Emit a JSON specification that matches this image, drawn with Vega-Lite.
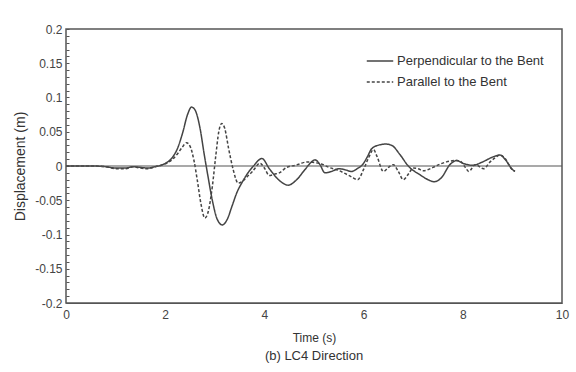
{
  "$schema": "https://vega.github.io/schema/vega-lite/v6.json",
  "width": 496,
  "height": 274,
  "autosize": {"type": "none"},
  "padding": {"left": 66, "top": 29, "right": 14, "bottom": 69},
  "background": "white",
  "config": {
    "font": "Liberation Sans",
    "view": {"stroke": "#555", "strokeWidth": 1.5},
    "axis": {"labelFont": "Liberation Sans", "titleFont": "Liberation Sans", "labelFontSize": 12, "titleFontSize": 12, "labelColor": "#444", "titleColor": "#333", "titleFontWeight": "normal", "grid": false, "domainColor": "#555"}
  },
  "title": {"text": "(b) LC4 Direction", "orient": "bottom", "anchor": "middle", "fontSize": 13, "fontWeight": "normal", "font": "Liberation Sans", "color": "#333", "offset": 7},
  "datasets": {
    "series": [
      {"t": 0, "v": 0, "s": "Perpendicular to the Bent"},
      {"t": 0.5, "v": 0, "s": "Perpendicular to the Bent"},
      {"t": 0.8, "v": -0.001, "s": "Perpendicular to the Bent"},
      {"t": 1.0, "v": -0.003, "s": "Perpendicular to the Bent"},
      {"t": 1.2, "v": -0.003, "s": "Perpendicular to the Bent"},
      {"t": 1.35, "v": -0.001, "s": "Perpendicular to the Bent"},
      {"t": 1.5, "v": -0.002, "s": "Perpendicular to the Bent"},
      {"t": 1.65, "v": -0.003, "s": "Perpendicular to the Bent"},
      {"t": 1.8, "v": -0.001, "s": "Perpendicular to the Bent"},
      {"t": 1.95, "v": 0.002, "s": "Perpendicular to the Bent"},
      {"t": 2.05, "v": 0.006, "s": "Perpendicular to the Bent"},
      {"t": 2.15, "v": 0.013, "s": "Perpendicular to the Bent"},
      {"t": 2.25, "v": 0.026, "s": "Perpendicular to the Bent"},
      {"t": 2.35, "v": 0.048, "s": "Perpendicular to the Bent"},
      {"t": 2.45, "v": 0.075, "s": "Perpendicular to the Bent"},
      {"t": 2.53, "v": 0.086, "s": "Perpendicular to the Bent"},
      {"t": 2.6, "v": 0.082, "s": "Perpendicular to the Bent"},
      {"t": 2.7, "v": 0.056, "s": "Perpendicular to the Bent"},
      {"t": 2.78, "v": 0.02, "s": "Perpendicular to the Bent"},
      {"t": 2.86, "v": -0.014, "s": "Perpendicular to the Bent"},
      {"t": 2.95, "v": -0.05, "s": "Perpendicular to the Bent"},
      {"t": 3.05, "v": -0.078, "s": "Perpendicular to the Bent"},
      {"t": 3.15, "v": -0.086, "s": "Perpendicular to the Bent"},
      {"t": 3.25, "v": -0.078, "s": "Perpendicular to the Bent"},
      {"t": 3.35, "v": -0.058, "s": "Perpendicular to the Bent"},
      {"t": 3.45, "v": -0.038, "s": "Perpendicular to the Bent"},
      {"t": 3.55, "v": -0.024, "s": "Perpendicular to the Bent"},
      {"t": 3.65, "v": -0.012, "s": "Perpendicular to the Bent"},
      {"t": 3.78, "v": 0.0, "s": "Perpendicular to the Bent"},
      {"t": 3.95, "v": 0.011, "s": "Perpendicular to the Bent"},
      {"t": 4.1, "v": -0.004, "s": "Perpendicular to the Bent"},
      {"t": 4.3, "v": -0.021, "s": "Perpendicular to the Bent"},
      {"t": 4.48, "v": -0.028, "s": "Perpendicular to the Bent"},
      {"t": 4.65, "v": -0.02, "s": "Perpendicular to the Bent"},
      {"t": 4.82, "v": -0.005, "s": "Perpendicular to the Bent"},
      {"t": 4.95, "v": 0.006, "s": "Perpendicular to the Bent"},
      {"t": 5.02, "v": 0.009, "s": "Perpendicular to the Bent"},
      {"t": 5.12, "v": 0.002, "s": "Perpendicular to the Bent"},
      {"t": 5.22, "v": -0.01, "s": "Perpendicular to the Bent"},
      {"t": 5.35, "v": -0.008, "s": "Perpendicular to the Bent"},
      {"t": 5.5, "v": -0.004, "s": "Perpendicular to the Bent"},
      {"t": 5.65, "v": -0.006, "s": "Perpendicular to the Bent"},
      {"t": 5.75, "v": -0.008, "s": "Perpendicular to the Bent"},
      {"t": 5.87, "v": -0.004, "s": "Perpendicular to the Bent"},
      {"t": 5.99, "v": 0.003, "s": "Perpendicular to the Bent"},
      {"t": 6.08, "v": 0.014, "s": "Perpendicular to the Bent"},
      {"t": 6.16, "v": 0.025, "s": "Perpendicular to the Bent"},
      {"t": 6.33, "v": 0.031, "s": "Perpendicular to the Bent"},
      {"t": 6.45, "v": 0.032, "s": "Perpendicular to the Bent"},
      {"t": 6.57, "v": 0.03, "s": "Perpendicular to the Bent"},
      {"t": 6.73, "v": 0.017, "s": "Perpendicular to the Bent"},
      {"t": 6.9, "v": 0.0, "s": "Perpendicular to the Bent"},
      {"t": 7.14, "v": -0.013, "s": "Perpendicular to the Bent"},
      {"t": 7.3, "v": -0.02, "s": "Perpendicular to the Bent"},
      {"t": 7.42, "v": -0.023, "s": "Perpendicular to the Bent"},
      {"t": 7.57, "v": -0.017, "s": "Perpendicular to the Bent"},
      {"t": 7.74, "v": 0.002, "s": "Perpendicular to the Bent"},
      {"t": 7.88, "v": 0.008, "s": "Perpendicular to the Bent"},
      {"t": 8.0, "v": 0.004, "s": "Perpendicular to the Bent"},
      {"t": 8.2, "v": 0.001, "s": "Perpendicular to the Bent"},
      {"t": 8.4, "v": 0.006, "s": "Perpendicular to the Bent"},
      {"t": 8.6, "v": 0.013, "s": "Perpendicular to the Bent"},
      {"t": 8.75, "v": 0.016, "s": "Perpendicular to the Bent"},
      {"t": 8.86, "v": 0.009, "s": "Perpendicular to the Bent"},
      {"t": 9.0, "v": -0.005, "s": "Perpendicular to the Bent"},
      {"t": 9.05, "v": -0.008, "s": "Perpendicular to the Bent"},

      {"t": 0, "v": 0, "s": "Parallel to the Bent"},
      {"t": 0.5, "v": 0, "s": "Parallel to the Bent"},
      {"t": 0.8, "v": -0.001, "s": "Parallel to the Bent"},
      {"t": 1.0, "v": -0.004, "s": "Parallel to the Bent"},
      {"t": 1.2, "v": -0.004, "s": "Parallel to the Bent"},
      {"t": 1.35, "v": -0.001, "s": "Parallel to the Bent"},
      {"t": 1.5, "v": -0.003, "s": "Parallel to the Bent"},
      {"t": 1.65, "v": -0.004, "s": "Parallel to the Bent"},
      {"t": 1.8, "v": -0.001, "s": "Parallel to the Bent"},
      {"t": 1.95, "v": 0.002, "s": "Parallel to the Bent"},
      {"t": 2.05, "v": 0.005, "s": "Parallel to the Bent"},
      {"t": 2.15, "v": 0.01, "s": "Parallel to the Bent"},
      {"t": 2.25, "v": 0.018, "s": "Parallel to the Bent"},
      {"t": 2.35, "v": 0.028, "s": "Parallel to the Bent"},
      {"t": 2.43, "v": 0.034, "s": "Parallel to the Bent"},
      {"t": 2.5, "v": 0.029, "s": "Parallel to the Bent"},
      {"t": 2.58, "v": 0.008, "s": "Parallel to the Bent"},
      {"t": 2.65, "v": -0.022, "s": "Parallel to the Bent"},
      {"t": 2.72, "v": -0.055, "s": "Parallel to the Bent"},
      {"t": 2.8, "v": -0.076, "s": "Parallel to the Bent"},
      {"t": 2.87, "v": -0.066, "s": "Parallel to the Bent"},
      {"t": 2.95, "v": -0.03, "s": "Parallel to the Bent"},
      {"t": 3.02, "v": 0.015, "s": "Parallel to the Bent"},
      {"t": 3.08, "v": 0.05, "s": "Parallel to the Bent"},
      {"t": 3.14, "v": 0.062, "s": "Parallel to the Bent"},
      {"t": 3.2, "v": 0.055, "s": "Parallel to the Bent"},
      {"t": 3.28, "v": 0.025, "s": "Parallel to the Bent"},
      {"t": 3.37, "v": -0.005, "s": "Parallel to the Bent"},
      {"t": 3.47, "v": -0.025, "s": "Parallel to the Bent"},
      {"t": 3.56, "v": -0.022, "s": "Parallel to the Bent"},
      {"t": 3.66, "v": -0.015, "s": "Parallel to the Bent"},
      {"t": 3.76, "v": -0.008, "s": "Parallel to the Bent"},
      {"t": 3.91, "v": 0.004, "s": "Parallel to the Bent"},
      {"t": 4.0, "v": -0.003, "s": "Parallel to the Bent"},
      {"t": 4.1, "v": -0.014, "s": "Parallel to the Bent"},
      {"t": 4.2, "v": -0.012, "s": "Parallel to the Bent"},
      {"t": 4.3, "v": -0.01, "s": "Parallel to the Bent"},
      {"t": 4.45, "v": -0.002, "s": "Parallel to the Bent"},
      {"t": 4.62, "v": 0.001, "s": "Parallel to the Bent"},
      {"t": 4.88, "v": 0.006, "s": "Parallel to the Bent"},
      {"t": 5.0, "v": 0.005, "s": "Parallel to the Bent"},
      {"t": 5.15, "v": 0.003, "s": "Parallel to the Bent"},
      {"t": 5.3, "v": -0.002, "s": "Parallel to the Bent"},
      {"t": 5.48, "v": -0.006, "s": "Parallel to the Bent"},
      {"t": 5.6, "v": -0.01, "s": "Parallel to the Bent"},
      {"t": 5.76, "v": -0.016, "s": "Parallel to the Bent"},
      {"t": 5.88, "v": -0.02, "s": "Parallel to the Bent"},
      {"t": 6.0, "v": -0.005, "s": "Parallel to the Bent"},
      {"t": 6.1, "v": 0.012, "s": "Parallel to the Bent"},
      {"t": 6.2, "v": 0.024, "s": "Parallel to the Bent"},
      {"t": 6.27, "v": 0.014, "s": "Parallel to the Bent"},
      {"t": 6.4, "v": -0.008, "s": "Parallel to the Bent"},
      {"t": 6.5, "v": -0.002, "s": "Parallel to the Bent"},
      {"t": 6.6, "v": 0.002, "s": "Parallel to the Bent"},
      {"t": 6.7, "v": -0.008, "s": "Parallel to the Bent"},
      {"t": 6.8, "v": -0.02, "s": "Parallel to the Bent"},
      {"t": 6.9, "v": -0.012, "s": "Parallel to the Bent"},
      {"t": 7.0, "v": -0.003, "s": "Parallel to the Bent"},
      {"t": 7.1, "v": -0.004, "s": "Parallel to the Bent"},
      {"t": 7.2, "v": -0.007, "s": "Parallel to the Bent"},
      {"t": 7.4, "v": -0.002, "s": "Parallel to the Bent"},
      {"t": 7.55, "v": 0.003, "s": "Parallel to the Bent"},
      {"t": 7.67, "v": 0.006, "s": "Parallel to the Bent"},
      {"t": 7.85, "v": 0.008, "s": "Parallel to the Bent"},
      {"t": 7.95, "v": 0.007, "s": "Parallel to the Bent"},
      {"t": 8.05, "v": -0.002, "s": "Parallel to the Bent"},
      {"t": 8.12, "v": -0.008, "s": "Parallel to the Bent"},
      {"t": 8.25, "v": 0.002, "s": "Parallel to the Bent"},
      {"t": 8.42, "v": -0.004, "s": "Parallel to the Bent"},
      {"t": 8.55, "v": 0.006, "s": "Parallel to the Bent"},
      {"t": 8.65, "v": 0.012, "s": "Parallel to the Bent"},
      {"t": 8.75, "v": 0.016, "s": "Parallel to the Bent"},
      {"t": 8.85, "v": 0.011, "s": "Parallel to the Bent"},
      {"t": 8.98, "v": -0.004, "s": "Parallel to the Bent"},
      {"t": 9.05, "v": -0.008, "s": "Parallel to the Bent"}
    ]
  },
  "layer": [
    {
      "data": {"name": "series"},
      "mark": {"type": "line", "interpolate": "monotone", "color": "#444", "strokeWidth": 1.5, "clip": true},
      "encoding": {
        "x": {"field": "t", "type": "quantitative", "scale": {"domain": [0, 10], "nice": false},
              "axis": {"values": [0, 2, 4, 6, 8, 10], "ticks": false, "labelPadding": 6, "title": "Time (s)", "titlePadding": 12, "labelFlush": false}},
        "y": {"field": "v", "type": "quantitative", "scale": {"domain": [-0.2, 0.2], "nice": false, "zero": false},
              "axis": {"tickCount": 40, "tickMinStep": 0.01,
                       "labelExpr": "abs(round(datum.value*100)) % 5 == 0 ? replace(format(datum.value, '.2~f'), '−', '-') : ''",
                       "labelOverlap": false, "domain": false, "offset": -3, "ticks": true,
                       "tickSize": 3, "tickColor": "#555", "labelPadding": 4, "labelFlush": false,
                       "title": "Displacement (m)", "titleFontSize": 14, "titlePadding": 7}},
        "strokeDash": {"field": "s", "type": "nominal",
                       "scale": {"domain": ["Perpendicular to the Bent", "Parallel to the Bent"], "range": [[1, 0], [3, 2]]},
                       "legend": {"title": null, "orient": "none", "legendX": 300, "legendY": 18, "symbolType": "stroke", "symbolSize": 700, "symbolStrokeColor": "#444", "symbolStrokeWidth": 1.3, "labelFontSize": 13, "labelColor": "#333", "labelFont": "Liberation Sans", "rowPadding": -4, "labelOffset": 3, "padding": 0}}
      }
    },
    {
      "data": {"values": [{"z": 0}]},
      "mark": {"type": "rule", "color": "#555", "strokeWidth": 1.2},
      "encoding": {"y": {"field": "z", "type": "quantitative"}}
    }
  ]
}
